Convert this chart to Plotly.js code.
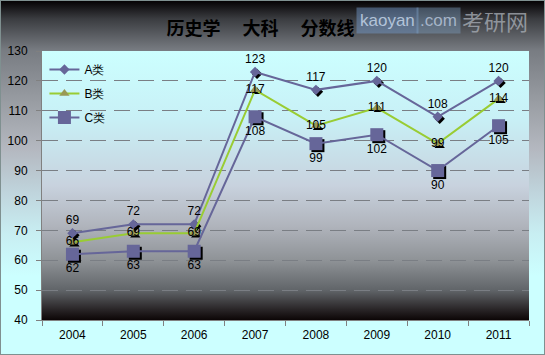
<!DOCTYPE html>
<html>
<head>
<meta charset="utf-8">
<script src="https://cdn.plot.ly/plotly-3.0.1.min.js"></script>
<style>
  html, body { margin: 0; padding: 0; background: #ccffff; }
  #wrap {
    position: relative; width: 545px; height: 355px; overflow: hidden;
    background: linear-gradient(to bottom, #050204 0%, #3a3c40 5%, #787c82 14%, #9ca0a6 30%, #b4b8c0 42%, #c0d6de 55%, #c8eef2 66%, #ccffff 78%, #ccffff 100%);
    box-sizing: border-box; border: 1px solid #7f9090;
  }
  #plotbg {
    position: absolute; left: 41px; top: 50px; width: 487px; height: 269px;
    background: linear-gradient(to bottom, #ccffff 0%, #c8f0f6 25%, #c8d2de 50%, #b0b4bc 65%, #8e9296 78%, #606468 89%, #2a2628 96%, #0c0606 100%);
  }
  #chart { position: absolute; left: -1px; top: -1px; width: 545px; height: 355px; }
  .scatterlayer .trace:nth-child(-n+3) { transform: translate(2px, 2px); }
</style>
</head>
<body>
<div id="wrap">
  <div id="plotbg"></div>
  <div id="chart"></div>
</div>
<script>
const years = ["2004", "2005", "2006", "2007", "2008", "2009", "2010", "2011"];
const seriesA = [69, 72, 72, 123, 117, 120, 108, 120];
const seriesB = [66, 69, 69, 117, 105, 111, 99, 114];
const seriesC = [62, 63, 63, 108, 99, 102, 90, 105];
const names = ["A类", "B类", "C类"];
const yTicks = [40, 50, 60, 70, 80, 90, 100, 110, 120, 130];

const labelFont = { family: "Liberation Sans, Arial, sans-serif", size: 12, color: "#000000" };

function shadow(vals, symbol, size) {
  return {
    x: years, y: vals, type: "scatter", mode: "markers", showlegend: false, hoverinfo: "skip",
    marker: { symbol: symbol, size: size, color: "#000000" }
  };
}

const traces = [
  shadow(seriesA, "diamond", 8),
  shadow(seriesB, "triangle-up", 9),
  shadow(seriesC, "square", 13),
  {
    x: years, y: seriesA, name: names[0], legendgroup: "a", type: "scatter", mode: "lines+markers+text",
    line: { color: "#666699", width: 2 },
    marker: { symbol: "diamond", size: 8, color: "#666699" },
    text: seriesA.map(String), textposition: "top center", textfont: labelFont, cliponaxis: false
  },
  {
    x: years, y: seriesB, name: names[1], legendgroup: "b", type: "scatter", mode: "lines+markers+text",
    line: { color: "#99cc33", width: 2 },
    marker: { symbol: "triangle-up", size: 9, color: "#999955" },
    text: seriesB.map(String), textposition: "middle center", textfont: labelFont, cliponaxis: false
  },
  {
    x: years, y: seriesC, name: names[2], legendgroup: "c", type: "scatter", mode: "lines+markers+text",
    line: { color: "#666699", width: 2 },
    marker: { symbol: "square", size: 13, color: "#666699" },
    text: seriesC.map(String), textposition: "bottom center", textfont: labelFont, cliponaxis: false
  }
];

const layout = {
  width: 545, height: 355,
  margin: { l: 42, r: 16, t: 51, b: 35, pad: 0 },
  paper_bgcolor: "rgba(0,0,0,0)",
  plot_bgcolor: "rgba(0,0,0,0)",
  font: { family: "Liberation Sans, Arial, sans-serif", size: 12, color: "#000000" },
  title: {
    text: "历史学　 大科　 分数线",
    font: { family: "Noto Sans CJK SC", size: 18, color: "#000000", weight: "bold" },
    xref: "container", x: 0.478, xanchor: "center",
    yref: "container", y: 0.92, yanchor: "middle"
  },
  xaxis: {
    type: "category", categoryorder: "array", categoryarray: years,
    range: [-0.5, 7.5], tickson: "boundaries",
    ticks: "outside", ticklen: 5, tickcolor: "#808080",
    showline: true, linecolor: "#808080", linewidth: 1,
    showgrid: false, zeroline: false,
    tickfont: { size: 12 }, ticklabelstandoff: 4, fixedrange: true
  },
  yaxis: {
    range: [40, 130], tickvals: yTicks,
    ticks: "outside", ticklen: 5, tickcolor: "#808080",
    showline: true, linecolor: "#808080", linewidth: 1,
    showgrid: true, gridcolor: "#7a7e84", gridwidth: 1, griddash: "16px,8px",
    zeroline: false, tickfont: { size: 12 }, ticklabelstandoff: 6, fixedrange: true
  },
  legend: {
    x: 0.005, y: 0.985, xanchor: "left", yanchor: "top",
    bgcolor: "rgba(0,0,0,0)", borderwidth: 0,
    traceorder: "grouped", tracegroupgap: 5,
    font: { family: "Liberation Sans, Arial, sans-serif", size: 12, color: "#000000" },
    itemwidth: 30
  },
  annotations: [
    { text: "kaoyan", xref: "paper", yref: "paper", x: 0.71, y: 1.115, xanchor: "center", yanchor: "middle",
      showarrow: false, bgcolor: "rgba(120,160,210,0.45)", borderpad: 3,
      font: { family: "Liberation Sans, Arial", size: 17, color: "rgba(210,225,245,0.75)" } },
    { text: ".com", xref: "paper", yref: "paper", x: 0.815, y: 1.115, xanchor: "center", yanchor: "middle",
      showarrow: false, bgcolor: "rgba(130,165,200,0.4)", borderpad: 3,
      font: { family: "Liberation Sans, Arial", size: 17, color: "rgba(200,215,235,0.7)" } },
    { text: "考研网", xref: "paper", yref: "paper", x: 0.93, y: 1.115, xanchor: "center", yanchor: "middle",
      showarrow: false,
      font: { family: "Noto Sans CJK SC", size: 22, color: "rgba(170,176,184,0.75)" } }
  ],
  showlegend: true
};

Plotly.newPlot("chart", traces, layout, { displayModeBar: false, staticPlot: true });
</script>
</body>
</html>
